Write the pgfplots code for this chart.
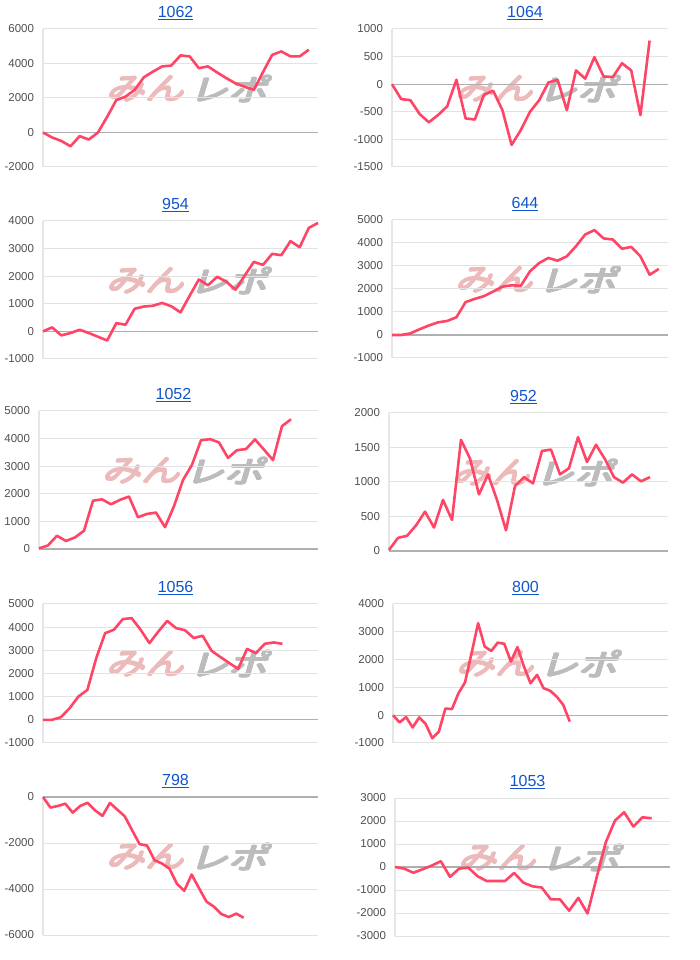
\documentclass[border=0pt]{standalone}
\usepackage{fontspec}
\setmainfont{Liberation Sans}
\newfontfamily\jp{Noto Sans CJK JP}
\usepackage{pgfplots}
\pgfplotsset{compat=1.18}
\definecolor{sercol}{RGB}{255,68,102}
\definecolor{gridc}{RGB}{226,226,226}
\definecolor{vline}{RGB}{230,230,230}
\definecolor{zeroc}{RGB}{175,175,175}
\definecolor{lab}{RGB}{80,80,80}
\definecolor{ttl}{RGB}{17,85,204}
\definecolor{wmp}{RGB}{236,186,186}
\definecolor{wmg}{RGB}{188,188,188}
\pgfplotsset{
 panel/.style={
  scale only axis, width=275pt, height=138pt, anchor=south west,
  xmin=0, axis x line=none, axis y line*=left,
  axis line style={draw=vline, line width=1.5pt, -},
  xtick=\empty,
  ymajorgrids, major grid style={gridc, line width=1pt},
  tick style={draw=none},
  yticklabel style={font=\fontsize{11.5}{13}\selectfont, text=lab, xshift=-5.5pt},
  /pgf/number format/assume math mode=true,
  /pgf/number format/1000 sep={},
  scaled y ticks=false,
  title style={at={(0.482,1)}, anchor=base, yshift=5.8pt, font=\fontsize{16}{19}\selectfont, text=ttl},
  extra y ticks={0}, extra y tick labels={},
  extra y tick style={grid=major, major grid style={zeroc, line width=1.2pt}},
  clip=false,
 },
 serline/.style={sercol, line width=2.6pt, line join=round, no marks},
}
\newcommand\wm[2]{%
 \foreach \dx/\dy in {0/0,0.9/0,-0.9/0,0/0.9,0/-0.9,0.65/0.65,-0.65/-0.65,0.65/-0.65,-0.65/0.65}{%
 \node[anchor=west, text=wmp, font=\jp\fontsize{30}{30}\selectfont, xslant=0.3, xscale=1.3, inner sep=0] at ({#1+66+\dx},{#2-60+\dy}) {みん};
 \node[anchor=west, text=wmg, font=\jp\fontsize{30}{30}\selectfont, xslant=0.3, xscale=1.3, inner sep=0] at ({#1+150+\dx},{#2-60+\dy}) {レポ};
 }%
}
\begin{document}
\begin{tikzpicture}[x=1pt,y=1pt]
\useasboundingbox (0,0) rectangle (700,960);
\wm{43}{931}
\wm{392}{931}
\wm{43}{739}
\wm{392}{740}
\wm{39}{549}
\wm{389}{547}
\wm{43}{356}
\wm{393}{356}
\wm{43}{163}
\wm{395}{162}

% 1062
\begin{axis}[panel, at={(43pt,793pt)}, xmax=30, ymin=-2000, ymax=6000, ytick={-2000,0,2000,4000,6000}, title={\underline{1062}}]
\addplot[serline] coordinates {(0,0)(1,-290)(2,-490)(3,-800)(4,-210)(5,-410)(6,0)(7,910)(8,1880)(9,2080)(10,2470)(11,3200)(12,3530)(13,3830)(14,3880)(15,4470)(16,4410)(17,3730)(18,3830)(19,3480)(20,3150)(21,2850)(22,2650)(23,2470)(24,3500)(25,4500)(26,4700)(27,4410)(28,4410)(29,4800)};
\end{axis}
% 1064
\begin{axis}[panel, at={(392pt,793pt)}, width=276pt, xmax=30, ymin=-1500, ymax=1000, ytick={-1500,-1000,-500,0,500,1000}, title={\underline{1064}}]
\addplot[serline] coordinates {(0,0)(1,-270)(2,-290)(3,-540)(4,-690)(5,-560)(6,-400)(7,80)(8,-620)(9,-640)(10,-190)(11,-120)(12,-470)(13,-1100)(14,-830)(15,-500)(16,-290)(17,30)(18,80)(19,-470)(20,250)(21,100)(22,490)(23,140)(24,130)(25,380)(26,250)(27,-560)(28,790)};
\end{axis}
% 954
\begin{axis}[panel, at={(43pt,601pt)}, xmax=30, ymin=-1000, ymax=4000, ytick={-1000,0,1000,2000,3000,4000}, title={\underline{954}}]
\addplot[serline] coordinates {(0,0)(1,145)(2,-145)(3,-60)(4,60)(5,-60)(6,-195)(7,-330)(8,300)(9,240)(10,820)(11,900)(12,930)(13,1030)(14,910)(15,690)(16,1290)(17,1880)(18,1670)(19,1980)(20,1800)(21,1510)(22,2020)(23,2520)(24,2410)(25,2810)(26,2760)(27,3270)(28,3050)(29,3750)(30,3930)};
\end{axis}
% 644
\begin{axis}[panel, at={(392pt,602pt)}, width=276pt, xmax=30, ymin=-1000, ymax=5000, ytick={-1000,0,1000,2000,3000,4000,5000}, title={\underline{644}}]
\addplot[serline] coordinates {(0,0)(1,0)(2,70)(3,250)(4,410)(5,550)(6,610)(7,770)(8,1430)(9,1570)(10,1690)(11,1890)(12,2100)(13,2160)(14,2140)(15,2770)(16,3130)(17,3350)(18,3230)(19,3420)(20,3860)(21,4370)(22,4560)(23,4200)(24,4150)(25,3750)(26,3830)(27,3420)(28,2620)(29,2870)};
\end{axis}
% 1052
\begin{axis}[panel, at={(39pt,411pt)}, width=279pt, xmax=31, ymin=0, ymax=5000, ytick={0,1000,2000,3000,4000,5000}, title={\underline{1052}}]
\addplot[serline] coordinates {(0,20)(1,130)(2,480)(3,290)(4,420)(5,660)(6,1750)(7,1800)(8,1620)(9,1780)(10,1900)(11,1150)(12,1270)(13,1320)(14,790)(15,1550)(16,2500)(17,3050)(18,3940)(19,3980)(20,3860)(21,3300)(22,3580)(23,3620)(24,3970)(25,3600)(26,3220)(27,4450)(28,4700)};
\end{axis}
% 952
\begin{axis}[panel, at={(389pt,409pt)}, width=279pt, xmax=31, ymin=0, ymax=2000, ytick={0,500,1000,1500,2000}, title={\underline{952}}]
\addplot[serline] coordinates {(0,15)(1,190)(2,220)(3,370)(4,570)(5,340)(6,740)(7,450)(8,1610)(9,1340)(10,820)(11,1110)(12,740)(13,300)(14,940)(15,1070)(16,980)(17,1450)(18,1470)(19,1110)(20,1200)(21,1650)(22,1290)(23,1540)(24,1330)(25,1070)(26,990)(27,1110)(28,1010)(29,1070)};
\end{axis}
% 1056
\begin{axis}[panel, at={(43pt,217pt)}, height=139pt, xmax=31, ymin=-1000, ymax=5000, ytick={-1000,0,1000,2000,3000,4000,5000}, title={\underline{1056}}]
\addplot[serline] coordinates {(0,0)(1,0)(2,110)(3,500)(4,1010)(5,1290)(6,2660)(7,3740)(8,3890)(9,4350)(10,4390)(11,3890)(12,3310)(13,3810)(14,4270)(15,3960)(16,3870)(17,3530)(18,3630)(19,2980)(20,2710)(21,2450)(22,2200)(23,3060)(24,2880)(25,3280)(26,3340)(27,3280)};
\end{axis}
% 800
\begin{axis}[panel, at={(393pt,217pt)}, height=139pt, xmax=42, ymin=-1000, ymax=4000, ytick={-1000,0,1000,2000,3000,4000}, title={\underline{800}}]
\addplot[serline] coordinates {(0,0)(1,-260)(2,-70)(3,-440)(4,-80)(5,-320)(6,-830)(7,-590)(8,240)(9,220)(10,790)(11,1180)(12,2230)(13,3310)(14,2470)(15,2310)(16,2610)(17,2570)(18,1930)(19,2450)(20,1750)(21,1150)(22,1450)(23,970)(24,880)(25,670)(26,370)(27,-230)};
\end{axis}
% 798
\begin{axis}[panel, at={(43pt,25pt)}, xmax=37, ymin=-6000, ymax=0, ytick={-6000,-4000,-2000,0}, title={\underline{798}}]
\addplot[serline] coordinates {(0,0)(1,-460)(2,-390)(3,-290)(4,-680)(5,-390)(6,-250)(7,-580)(8,-820)(9,-260)(10,-550)(11,-840)(12,-1450)(13,-2050)(14,-2110)(15,-2750)(16,-2890)(17,-3110)(18,-3760)(19,-4080)(20,-3370)(21,-3970)(22,-4550)(23,-4770)(24,-5090)(25,-5220)(26,-5070)(27,-5250)};
\end{axis}
% 1053
\begin{axis}[panel, at={(395pt,24pt)}, xmax=30, ymin=-3000, ymax=3000, ytick={-3000,-2000,-1000,0,1000,2000,3000}, title={\underline{1053}}]
\addplot[serline] coordinates {(0,0)(1,-70)(2,-250)(3,-100)(4,60)(5,250)(6,-430)(7,-70)(8,-30)(9,-400)(10,-610)(11,-610)(12,-610)(13,-260)(14,-680)(15,-840)(16,-890)(17,-1410)(18,-1410)(19,-1900)(20,-1340)(21,-2020)(22,-450)(23,1080)(24,2020)(25,2380)(26,1760)(27,2160)(28,2120)};
\end{axis}
\end{tikzpicture}
\end{document}
